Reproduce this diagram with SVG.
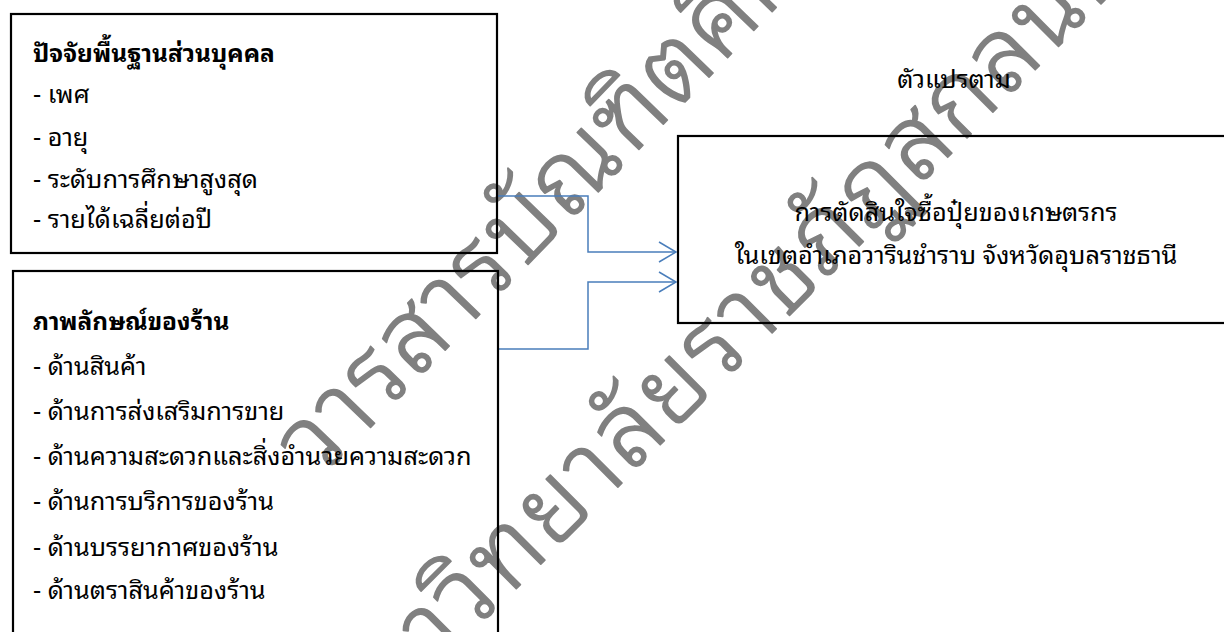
<svg xmlns="http://www.w3.org/2000/svg" width="1224" height="632" viewBox="0 0 1224 632">
<style>
.t{font-family:"Noto Sans Thai Looped",Loma,Tahoma,"Noto Sans Thai","Noto Sans",sans-serif;font-size:25.3px;fill:#000}
.b{font-weight:bold;font-size:24.4px}
.box{fill:none;stroke:#000;stroke-width:2.2}
.wm{font-family:"Noto Sans Thai Looped",Loma,Tahoma,"Noto Sans Thai","Noto Sans",sans-serif;font-size:102px;font-weight:300;fill:#808080;stroke:#808080;stroke-width:1.6;stroke-linejoin:round}
.c{fill:none;stroke:#4a7ebb;stroke-width:1.5}
</style>
<defs>
<marker id="arr" markerUnits="userSpaceOnUse" markerWidth="20" markerHeight="24" refX="18" refY="11" orient="auto">
<path d="M1,1 L18,11 L1,21" fill="none" stroke="#4a7ebb" stroke-width="1.5"/>
</marker>
</defs>
<rect width="1224" height="632" fill="#fff"/>
<g id="watermark">
<text class="wm" transform="translate(318,482) rotate(-46)" letter-spacing="2">วารสารบัณฑิตศึกษา</text>
<text class="wm" transform="translate(343,762) rotate(-45)" letter-spacing="3">มหาวิทยาลัยราชภัฏสกลนคร</text>
</g>
<g id="connectors">
<path class="c" d="M498,196 H588 V252 H676" marker-end="url(#arr)"/>
<path class="c" d="M498,349 H588 V282 H676" marker-end="url(#arr)"/>
</g>
<g id="personal">
<rect class="box" x="11" y="14" width="486" height="239"/>
<text class="t b" x="33" y="62">ปัจจัยพื้นฐานส่วนบุคคล</text>
<text class="t" x="33" y="103">- เพศ</text>
<text class="t" x="33" y="146">- อายุ</text>
<text class="t" x="33" y="188">- ระดับการศึกษาสูงสุด</text>
<text class="t" x="33" y="228">- รายได้เฉลี่ยต่อปี</text>
</g>
<g id="image">
<rect class="box" x="13" y="271" width="485" height="380"/>
<text class="t b" x="33" y="330">ภาพลักษณ์ของร้าน</text>
<text class="t" x="33" y="375">- ด้านสินค้า</text>
<text class="t" x="33" y="420">- ด้านการส่งเสริมการขาย</text>
<text class="t" x="33" y="465">- ด้านความสะดวกและสิ่งอำนวยความสะดวก</text>
<text class="t" x="33" y="510">- ด้านการบริการของร้าน</text>
<text class="t" x="33" y="556">- ด้านบรรยากาศของร้าน</text>
<text class="t" x="33" y="599">- ด้านตราสินค้าของร้าน</text>
</g>
<g id="label">
<text class="t" x="954" y="88" text-anchor="middle">ตัวแปรตาม</text>
</g>
<g id="decision">
<rect class="box" x="678" y="136" width="560" height="187"/>
<text class="t" x="956" y="221" text-anchor="middle">การตัดสินใจซื้อปุ๋ยของเกษตรกร</text>
<text class="t" x="956" y="264" text-anchor="middle">ในเขตอำเภอวารินชำราบ จังหวัดอุบลราชธานี</text>
</g>
</svg>
